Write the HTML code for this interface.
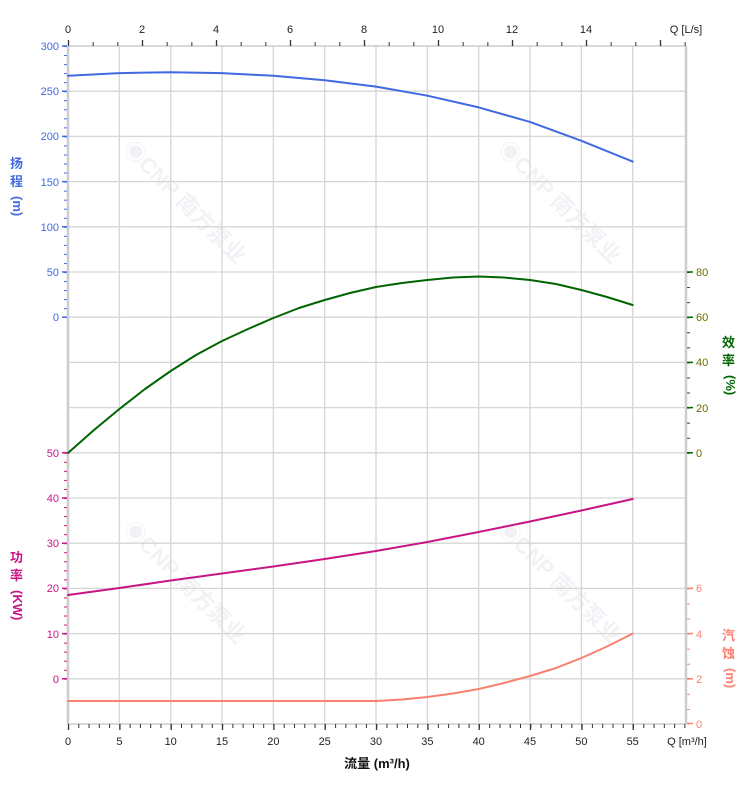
<!DOCTYPE html>
<html><head><meta charset="utf-8"><style>
html,body{margin:0;padding:0;background:#fff;}
svg{display:block;font-family:"Liberation Sans","Noto Sans CJK SC",sans-serif;}
</style></head><body>
<svg width="752" height="797" viewBox="0 0 752 797" xmlns="http://www.w3.org/2000/svg">
<defs>
<pattern id="pb" x="68" y="0" width="10.273" height="10" patternUnits="userSpaceOnUse"><rect x="0" y="0" width="1" height="10" fill="#333"/></pattern>
<pattern id="pt" x="68" y="0" width="24.667" height="10" patternUnits="userSpaceOnUse"><rect x="0" y="0" width="1" height="10" fill="#333"/></pattern>
<pattern id="ph" x="0" y="46" width="10" height="9.04" patternUnits="userSpaceOnUse"><rect x="0" y="0" width="10" height="1" fill="#4169E1"/></pattern>
<pattern id="pp" x="0" y="452.8" width="10" height="9.04" patternUnits="userSpaceOnUse"><rect x="0" y="0" width="10" height="1" fill="#C71585"/></pattern>
<pattern id="pe" x="0" y="272" width="10" height="15.067" patternUnits="userSpaceOnUse"><rect x="0" y="0" width="10" height="1" fill="#006400"/></pattern>
<pattern id="pn" x="0" y="588.4" width="10" height="15.067" patternUnits="userSpaceOnUse"><rect x="0" y="0" width="10" height="1" fill="#FA8072"/></pattern>
</defs>

<g fill="#dde3ea" font-weight="bold" font-size="22" opacity="0.45">
<text transform="translate(122,150) rotate(45)">◉CNP 南方泵业</text>
<text transform="translate(497,150) rotate(45)">◉CNP 南方泵业</text>
<text transform="translate(122,530) rotate(45)">◉CNP 南方泵业</text>
<text transform="translate(497,530) rotate(45)">◉CNP 南方泵业</text>
</g>

<g stroke="#d6d6d6" stroke-width="1.3">
<path d="M68,91.2H686M68,136.4H686M68,181.6H686M68,226.8H686M68,272H686M68,317.2H686M68,362.4H686M68,407.6H686M68,452.8H686M68,498H686M68,543.2H686M68,588.4H686M68,633.6H686M68,678.8H686"/>
<path d="M119.4,46V724M170.7,46V724M222,46V724M273.4,46V724M324.7,46V724M376,46V724M427.4,46V724M478.7,46V724M530,46V724M581.4,46V724M632.7,46V724"/>
</g>
<g stroke="#cccccc" stroke-width="2.5">
<path d="M68,46V724M686,46V724"/>
</g>
<g stroke="#ccc" stroke-width="1.5"><path d="M68,46H686M68,724H686"/></g>

<rect x="68" y="724" width="619" height="4" fill="url(#pb)"/>
<g stroke="#333" stroke-width="1.3"><path d="M68.5,724v6M119.9,724v6M171.2,724v6M222.5,724v6M273.9,724v6M325.2,724v6M376.5,724v6M427.9,724v6M479.2,724v6M530.5,724v6M581.9,724v6M633.2,724v6"/>
<path d="M68.5,46v-6M142.5,46v-6M216.5,46v-6M290.5,46v-6M364.5,46v-6M438.5,46v-6M512.5,46v-6M586.5,46v-6M660.5,46v-6"/></g>
<rect x="68" y="42" width="619" height="4" fill="url(#pt)"/>
<rect x="64" y="46" width="3" height="272" fill="url(#ph)"/>
<g stroke="#4169E1" stroke-width="1.5"><path d="M62,46h5M62,91.2h5M62,136.4h5M62,181.6h5M62,226.8h5M62,272h5M62,317.2h5"/></g>
<rect x="64" y="452.8" width="3" height="227" fill="url(#pp)"/>
<g stroke="#C71585" stroke-width="1.5"><path d="M62,452.8h5M62,498h5M62,543.2h5M62,588.4h5M62,633.6h5M62,678.8h5"/></g>
<rect x="687" y="272" width="3" height="182" fill="url(#pe)"/>
<g stroke="#006400" stroke-width="1.5"><path d="M687,272h6M687,317.2h6M687,362.4h6M687,407.6h6M687,452.8h6"/></g>
<rect x="687" y="588.4" width="3" height="136" fill="url(#pn)"/>
<g stroke="#FA8072" stroke-width="1.5"><path d="M687,588.4h6M687,633.6h6M687,678.8h6M687,723.5h6"/></g>

<g font-size="11" fill="#222" text-anchor="middle">
<text x="68" y="33">0</text><text x="142" y="33">2</text><text x="216" y="33">4</text><text x="290" y="33">6</text><text x="364" y="33">8</text><text x="438" y="33">10</text><text x="512" y="33">12</text><text x="586" y="33">14</text>
<text x="686" y="33">Q [L/s]</text>
<text x="68" y="745">0</text><text x="119.4" y="745">5</text><text x="170.7" y="745">10</text><text x="222" y="745">15</text><text x="273.4" y="745">20</text><text x="324.7" y="745">25</text><text x="376" y="745">30</text><text x="427.4" y="745">35</text><text x="478.7" y="745">40</text><text x="530" y="745">45</text><text x="581.4" y="745">50</text><text x="632.7" y="745">55</text>
<text x="687" y="745">Q [m³/h]</text>
</g>
<g font-size="11" fill="#4169E1" text-anchor="end">
<text x="59" y="50">300</text><text x="59" y="95">250</text><text x="59" y="140">200</text><text x="59" y="186">150</text><text x="59" y="231">100</text><text x="59" y="276">50</text><text x="59" y="321">0</text>
</g>
<g font-size="11" fill="#C71585" text-anchor="end">
<text x="59" y="457">50</text><text x="59" y="502">40</text><text x="59" y="547">30</text><text x="59" y="592">20</text><text x="59" y="638">10</text><text x="59" y="683">0</text>
</g>
<g font-size="11" fill="#6b6b00">
<text x="696" y="276">80</text><text x="696" y="321">60</text><text x="696" y="366">40</text><text x="696" y="412">20</text><text x="696" y="457">0</text>
</g>
<g font-size="11" fill="#FA8072">
<text x="696" y="592">6</text><text x="696" y="638">4</text><text x="696" y="683">2</text><text x="696" y="728">0</text>
</g>

<g font-size="13" font-weight="bold">
<g fill="#4169E1"><text x="10" y="168">扬</text><text x="10" y="186">程</text><text transform="translate(13,196) rotate(90)">(m)</text></g>
<g fill="#C71585"><text x="10" y="562">功</text><text x="10" y="580">率</text><text transform="translate(13,590) rotate(90)">(KW)</text></g>
<g fill="#006400"><text x="722" y="347">效</text><text x="722" y="365">率</text><text transform="translate(726,375) rotate(90)">(%)</text></g>
<g fill="#FA8072"><text x="722" y="640">汽</text><text x="722" y="658">蚀</text><text transform="translate(726,668) rotate(90)">(m)</text></g>
<text x="377" y="768" fill="#111" text-anchor="middle">流量 (m³/h)</text>
</g>

<g fill="none" stroke-width="2" stroke-linejoin="round" stroke-linecap="round">
<polyline stroke="#4169E1" points="68,75.8 119.4,73.1 170.7,72.2 222,73.1 273.4,75.8 324.7,80.3 376,86.6 427.4,95.7 478.7,107.4 530,121.9 581.4,140.8 632.7,161.6"/>
<polyline stroke="#006400" points="68,453 94,430 119.4,409 145,389 170.7,371 196,355 222,341 248,329 273.4,318 299,308 324.7,300 350,293 376,287 402,283 427.4,280 453,277.5 478.7,276.5 504,277.5 530,280 556,284 581.4,290 607,297 632.7,305"/>
<polyline stroke="#C71585" points="68,595 119.4,588 170.7,580.5 222,573.5 273.4,566.5 324.7,559 376,551 427.4,542 478.7,532 530,521.5 581.4,510.5 632.7,499"/>
<polyline stroke="#FA8072" points="68,701 376,701 402,699.5 427.4,697 453,693.5 478.7,689 504,683 530,676 556,668 581.4,658 607,646.5 632.7,633.6"/>
</g>
</svg>
</body></html>
